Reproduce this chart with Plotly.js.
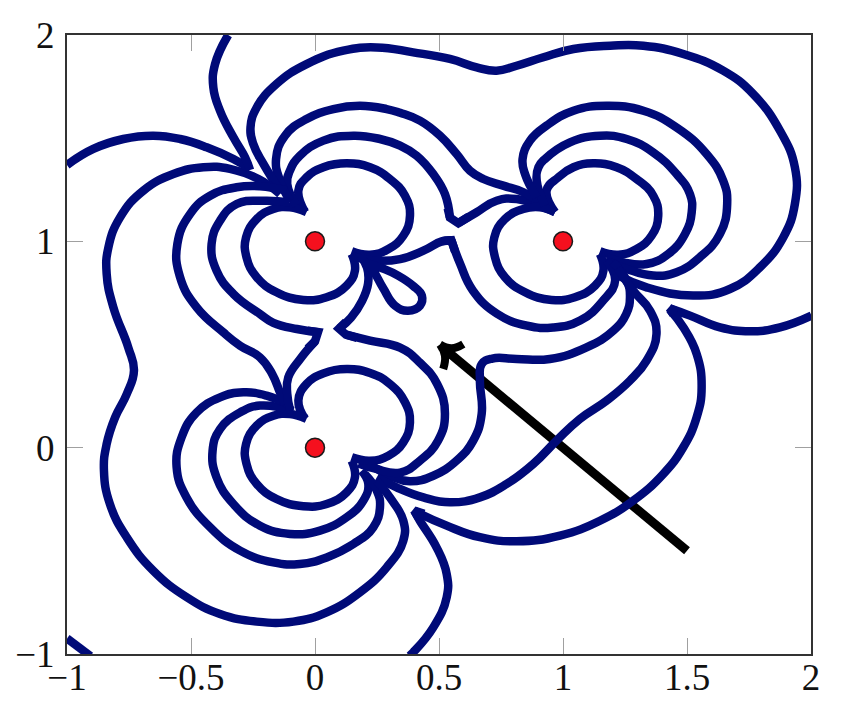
<!DOCTYPE html>
<html>
<head>
<meta charset="utf-8">
<script src="https://cdn.plot.ly/plotly-3.0.1.min.js"></script>
<style>
    html, body { margin: 0; padding: 0; background: #fff; }
</style>
</head>
<body>
<div id="plot" style="width:846px;height:712px;"></div>
<script>
// Tick labels
let tickValues = [-1, -0.5, 0, 0.5, 1, 1.5, 2];
let xTickLabels = ["\u22121", "\u22120.5", "0", "0.5", "1", "1.5", "2"];
let yTickValues = [-1, 0, 1, 2];
let yTickLabels = ["\u22121", "0", "1", "2"];

// Charges
let chargeX = [0, 0, 1];
let chargeY = [0, 1, 1];

// Arrow
let arrowShaft = [[1.5, -0.5], [0.51, 0.49]];
let arrowBarbTop = [[0.598, 0.502], [0.551, 0.482], [0.504, 0.5]];
let arrowBarbLeft = [[0.517, 0.381], [0.524, 0.446], [0.504, 0.5]];

// Field lines around the charge at (0, 1)
let upperLobe01 = [[-0.04, 1.141], [-0.067, 1.246], [-0.034, 1.31], [0.034, 1.359], [0.128, 1.378], [0.222, 1.359], [0.302, 1.302], [0.363, 1.221], [0.383, 1.124], [0.356, 1.027], [0.296, 0.963], [0.222, 0.935], [0.148, 0.952]];
let lowerLobe01 = [[-0.034, 1.141], [-0.101, 1.165], [-0.168, 1.157], [-0.235, 1.108], [-0.278, 1.019], [-0.276, 0.922], [-0.235, 0.826], [-0.155, 0.753], [-0.047, 0.716], [0.047, 0.729], [0.127, 0.785], [0.161, 0.858], [0.148, 0.939]];
let topToNotch = [[-0.074, 1.173], [-0.112, 1.278], [-0.101, 1.343], [-0.061, 1.415], [0.034, 1.488], [0.155, 1.512], [0.262, 1.496], [0.343, 1.464], [0.41, 1.415], [0.477, 1.326], [0.524, 1.229], [0.544, 1.115]];
let notchCorner = [[0.535, 1.16], [0.544, 1.115], [0.578, 1.088], [0.62, 1.12]];
let notchToRight = [[0.578, 1.088], [0.652, 1.141], [0.732, 1.197], [0.813, 1.205], [0.921, 1.165], [0.968, 1.141]];
let topToRight = [[-0.101, 1.197], [-0.141, 1.294], [-0.157, 1.399], [-0.121, 1.512], [-0.034, 1.593], [0.074, 1.641], [0.181, 1.657], [0.289, 1.641], [0.343, 1.623], [0.423, 1.585], [0.504, 1.512], [0.571, 1.423], [0.625, 1.342], [0.679, 1.302], [0.759, 1.27], [0.84, 1.238], [0.921, 1.173]];
let outerLoop = [[-0.141, 1.246], [-0.208, 1.375], [-0.249, 1.472], [-0.26, 1.553], [-0.235, 1.649], [-0.155, 1.763], [-0.034, 1.859], [0.114, 1.924], [0.249, 1.94], [0.396, 1.916], [0.544, 1.884], [0.652, 1.843], [0.732, 1.827], [0.813, 1.851], [0.921, 1.892], [1.042, 1.932], [1.19, 1.948], [1.324, 1.948], [1.485, 1.908], [1.646, 1.827], [1.767, 1.714], [1.875, 1.536], [1.935, 1.359], [1.935, 1.181], [1.888, 1.019], [1.794, 0.874], [1.673, 0.769], [1.526, 0.737], [1.337, 0.777], [1.223, 0.834]];

// Field lines around the charge at (1, 1)
let upperLobe11 = [[0.968, 1.141], [0.934, 1.246], [0.981, 1.31], [1.042, 1.359], [1.122, 1.378], [1.216, 1.359], [1.297, 1.302], [1.364, 1.221], [1.384, 1.124], [1.357, 1.027], [1.297, 0.963], [1.223, 0.935], [1.149, 0.952]];
let lowerLobe11 = [[0.968, 1.141], [0.907, 1.165], [0.84, 1.157], [0.766, 1.108], [0.723, 1.019], [0.726, 0.922], [0.766, 0.826], [0.847, 0.753], [0.954, 0.716], [1.048, 0.729], [1.129, 0.785], [1.163, 0.858], [1.149, 0.939]];
let secondLobe11 = [[0.927, 1.173], [0.894, 1.294], [0.901, 1.359], [0.927, 1.399], [1.028, 1.48], [1.149, 1.512], [1.257, 1.496], [1.364, 1.431], [1.458, 1.326], [1.512, 1.229], [1.519, 1.141], [1.492, 1.036], [1.425, 0.939], [1.337, 0.89], [1.243, 0.898], [1.176, 0.923]];
let thirdLobe11 = [[0.894, 1.213], [0.847, 1.326], [0.837, 1.399], [0.867, 1.488], [0.934, 1.561], [1.042, 1.633], [1.176, 1.657], [1.324, 1.633], [1.458, 1.552], [1.579, 1.423], [1.646, 1.294], [1.662, 1.181], [1.633, 1.036], [1.552, 0.923], [1.458, 0.85], [1.364, 0.834], [1.257, 0.866], [1.189, 0.898]];

// Lines between the charges
let midToCorner = [[0.16, 0.925], [0.249, 0.906], [0.343, 0.914], [0.437, 0.955], [0.511, 1.0], [0.55, 1.005]];
let midCorner = [[0.511, 1.0], [0.55, 1.005], [0.565, 0.95]];
let cornerToRight = [[0.55, 1.005], [0.585, 0.892], [0.637, 0.761], [0.734, 0.649], [0.855, 0.591], [0.96, 0.582], [1.069, 0.616], [1.161, 0.712], [1.21, 0.809], [1.176, 0.906]];
let rightToBottomA = [[1.2, 0.9], [1.257, 0.809], [1.27, 0.729], [1.255, 0.648], [1.203, 0.567], [1.095, 0.486], [0.947, 0.43], [0.813, 0.43], [0.715, 0.432], [0.672, 0.405], [0.665, 0.325], [0.672, 0.163], [0.638, 0.034], [0.571, -0.063], [0.477, -0.136], [0.383, -0.163], [0.31, -0.14], [0.22, -0.08]];
let rightToBottomB = [[1.22, 0.87], [1.283, 0.761], [1.351, 0.664], [1.377, 0.551], [1.337, 0.422], [1.27, 0.325], [1.176, 0.228], [1.068, 0.139], [0.974, 0.034], [0.88, -0.079], [0.773, -0.176], [0.665, -0.241], [0.544, -0.265], [0.437, -0.241], [0.329, -0.192], [0.249, -0.144]];
let rightEdgeIn = [[1.43, 0.675], [1.512, 0.64], [1.633, 0.583], [1.754, 0.564], [1.875, 0.583], [2.002, 0.64]];
let rightTip = [[1.46, 0.66], [1.43, 0.675], [1.445, 0.645]];
let wideArc = [[1.43, 0.67], [1.485, 0.583], [1.539, 0.454], [1.559, 0.292], [1.539, 0.147], [1.485, 0.002], [1.404, -0.128], [1.283, -0.257], [1.149, -0.354], [0.988, -0.426], [0.813, -0.454], [0.665, -0.434], [0.531, -0.378], [0.423, -0.32], [0.4, -0.305]];
let bottomTip = [[0.44, -0.32], [0.4, -0.305], [0.42, -0.345]];
let bottomIn = [[0.4, -0.305], [0.423, -0.354], [0.49, -0.483], [0.531, -0.612], [0.531, -0.725], [0.477, -0.871], [0.396, -0.992], [0.38, -1.01]];
let vDown = [[0.181, 0.931], [0.21, 0.872], [0.214, 0.795], [0.19, 0.712], [0.145, 0.63], [0.097, 0.577]];
let vCorner = [[0.125, 0.61], [0.097, 0.577], [0.125, 0.548], [0.17, 0.532]];
let vToBottom = [[0.125, 0.548], [0.222, 0.519], [0.343, 0.485], [0.423, 0.412], [0.492, 0.31], [0.524, 0.165], [0.496, 0.034], [0.423, -0.063], [0.343, -0.121], [0.243, -0.102], [0.176, -0.077]];
let petal = [[0.2, 0.9], [0.234, 0.858], [0.274, 0.775], [0.323, 0.688], [0.375, 0.664], [0.423, 0.688], [0.431, 0.737], [0.395, 0.785], [0.335, 0.834], [0.274, 0.868], [0.202, 0.897]];

// Field lines around the charge at (0, 0)
let upperLobe00 = [[-0.04, 0.139], [-0.067, 0.228], [-0.034, 0.309], [0.034, 0.36], [0.128, 0.381], [0.222, 0.362], [0.302, 0.309], [0.363, 0.22], [0.383, 0.123], [0.356, 0.026], [0.296, -0.039], [0.222, -0.063], [0.148, -0.047]];
let lowerLobe00 = [[-0.034, 0.139], [-0.101, 0.163], [-0.168, 0.155], [-0.235, 0.107], [-0.278, 0.018], [-0.276, -0.079], [-0.235, -0.176], [-0.155, -0.249], [-0.047, -0.284], [0.047, -0.273], [0.127, -0.217], [0.161, -0.144], [0.148, -0.063]];
let secondLobe00 = [[-0.087, 0.179], [-0.222, 0.204], [-0.302, 0.171], [-0.383, 0.09], [-0.413, -0.015], [-0.397, -0.144], [-0.329, -0.273], [-0.222, -0.378], [-0.101, -0.418], [0.02, -0.402], [0.127, -0.338], [0.195, -0.257], [0.215, -0.176], [0.188, -0.112]];
let thirdLobe00 = [[-0.114, 0.212], [-0.195, 0.252], [-0.289, 0.268], [-0.383, 0.244], [-0.477, 0.171], [-0.538, 0.05], [-0.558, -0.095], [-0.518, -0.241], [-0.423, -0.386], [-0.302, -0.499], [-0.168, -0.556], [-0.061, -0.564], [0.047, -0.532], [0.155, -0.467], [0.235, -0.386], [0.262, -0.289], [0.249, -0.208], [0.201, -0.128]];
let leftBigArc = [[-0.141, 1.229], [-0.228, 1.302], [-0.343, 1.351], [-0.45, 1.359], [-0.571, 1.326], [-0.692, 1.246], [-0.786, 1.116], [-0.833, 0.971], [-0.84, 0.842], [-0.813, 0.68], [-0.753, 0.486], [-0.73, 0.373], [-0.759, 0.26], [-0.806, 0.147], [-0.84, 0.018], [-0.851, -0.111], [-0.827, -0.273], [-0.759, -0.435], [-0.652, -0.596], [-0.517, -0.725], [-0.383, -0.806], [-0.235, -0.843], [-0.087, -0.843], [0.047, -0.798], [0.181, -0.701], [0.289, -0.58], [0.356, -0.451], [0.356, -0.354], [0.302, -0.241], [0.249, -0.16]];
let leftToBottom = [[-0.114, 1.246], [-0.222, 1.267], [-0.316, 1.262], [-0.423, 1.221], [-0.504, 1.132], [-0.555, 0.987], [-0.544, 0.826], [-0.477, 0.68], [-0.37, 0.559], [-0.302, 0.494], [-0.222, 0.438], [-0.173, 0.358], [-0.141, 0.267], [-0.121, 0.21]];
let leftToV = [[-0.101, 1.189], [-0.208, 1.197], [-0.316, 1.181], [-0.383, 1.1], [-0.417, 0.987], [-0.397, 0.858], [-0.329, 0.745], [-0.222, 0.648], [-0.168, 0.605], [-0.073, 0.575], [0.012, 0.56]];
let topVCorner = [[-0.03, 0.567], [0.012, 0.56], [0.0, 0.515], [-0.03, 0.48]];
let vToLower = [[0.0, 0.515], [-0.059, 0.431], [-0.108, 0.34], [-0.112, 0.262], [-0.1, 0.18]];

// Lines coming in from the edges
let leftEdgeIn = [[-1.0, 1.37], [-0.894, 1.448], [-0.773, 1.496], [-0.652, 1.512], [-0.544, 1.496], [-0.437, 1.456], [-0.329, 1.399], [-0.262, 1.351]];
let topEdgeIn = [[-0.35, 2.0], [-0.403, 1.859], [-0.41, 1.746], [-0.383, 1.633], [-0.329, 1.504], [-0.282, 1.407], [-0.262, 1.346]];
let cornerPiece = [[-1.0, -0.925], [-0.905, -1.01]];

let fieldLines = [
    upperLobe01, lowerLobe01, topToNotch, notchToRight, topToRight, outerLoop,
    upperLobe11, lowerLobe11, secondLobe11, thirdLobe11,
    midToCorner, cornerToRight, rightToBottomA, rightToBottomB, rightEdgeIn, wideArc, bottomIn,
    vDown, vToBottom, petal,
    upperLobe00, lowerLobe00, secondLobe00, thirdLobe00, leftBigArc, leftToBottom, leftToV, vToLower,
    leftEdgeIn, topEdgeIn
];
// Sharp corners stay straight
let cornerLines = [notchCorner, midCorner, rightTip, bottomTip, vCorner, topVCorner, cornerPiece];

function lineTrace(points, color, width, shape) {
    return {
        x: points.map((p) => p[0]),
        y: points.map((p) => p[1]),
        type: 'scatter',
        mode: 'lines',
        hoverinfo: 'skip',
        line: { color: color, width: width, shape: shape, smoothing: 1.3, simplify: false }
    };
}

function drawChart() {
    let traces = [];

    traces.push(lineTrace(arrowShaft, '#000000', 9, 'linear'));
    traces.push(lineTrace(arrowBarbTop, '#000000', 8, 'spline'));
    traces.push(lineTrace(arrowBarbLeft, '#000000', 8, 'spline'));

    fieldLines.forEach(function (points) {
        traces.push(lineTrace(points, '#000a78', 8.5, 'spline'));
    });
    cornerLines.forEach(function (points) {
        traces.push(lineTrace(points, '#000a78', 8.5, 'linear'));
    });

    traces.push({
        x: chargeX,
        y: chargeY,
        type: 'scatter',
        mode: 'markers',
        hoverinfo: 'skip',
        marker: { color: '#f5101e', size: 19, line: { color: '#1a1a1a', width: 1.5 } }
    });

    let tickFont = { family: 'Liberation Serif, serif', size: 37, color: '#111111' };
    let layout = {
        width: 846,
        height: 712,
        margin: { l: 67, r: 35, t: 35, b: 58 },
        paper_bgcolor: '#ffffff',
        plot_bgcolor: '#ffffff',
        showlegend: false,
        xaxis: {
            range: [-1, 2],
            tickmode: 'array',
            tickvals: tickValues,
            ticktext: xTickLabels,
            tickangle: 0,
            ticks: 'inside',
            ticklen: 16,
            tickwidth: 1,
            tickcolor: '#a0a0a0',
            showline: true,
            mirror: 'allticks',
            linecolor: '#333333',
            linewidth: 2,
            showgrid: false,
            zeroline: false,
            tickfont: tickFont,
            ticklabelstandoff: -10
        },
        yaxis: {
            range: [-1, 2],
            tickmode: 'array',
            tickvals: yTickValues,
            ticktext: yTickLabels,
            ticks: 'inside',
            ticklen: 16,
            tickwidth: 1,
            tickcolor: '#a0a0a0',
            showline: true,
            mirror: 'allticks',
            linecolor: '#333333',
            linewidth: 2,
            showgrid: false,
            zeroline: false,
            tickfont: tickFont,
            ticklabelstandoff: 3
        }
    };

    Plotly.newPlot('plot', traces, layout, { displayModeBar: false, staticPlot: true });
}

document.addEventListener("DOMContentLoaded", function () {
    drawChart();
});
</script>
</body>
</html>
